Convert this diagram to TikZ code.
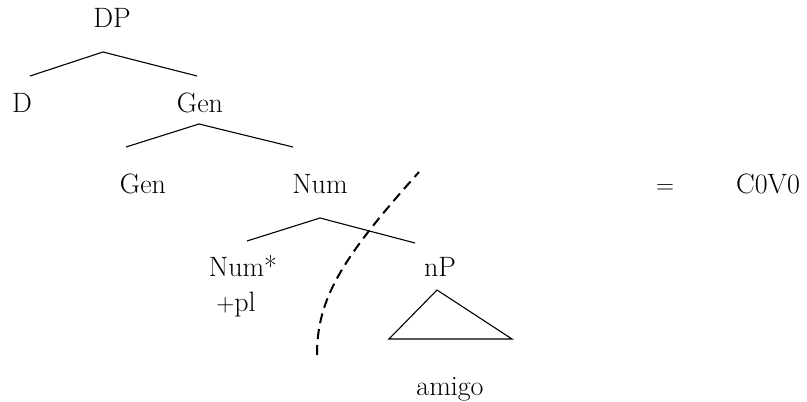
\documentclass[tikz,border=0pt]{standalone}
\begin{document}
\begin{tikzpicture}[x=1pt,y=-1pt,
  lbl/.style={inner sep=0pt, anchor=base, font=\fontsize{28}{33}\selectfont},
  br/.style={line width=1.1pt},
  cut/.style={line width=2pt, dash pattern=on 10pt off 6pt}]
\useasboundingbox (0,0) rectangle (807,402);
% labels
\node[lbl] (dp) at (112,27) {DP};
\node[lbl] (d) at (22,112) {D};
\node[lbl] (gen1) at (200,112) {Gen};
\node[lbl] (gen2) at (143,193) {Gen};
\node[lbl] (num) at (320,193) {Num};
\node[lbl] (numst) at (243,276) {Num*};
\node[lbl] (pl) at (236,311) {$+$pl};
\node[lbl] (np) at (440,276) {nP};
\node[lbl] (amigo) at (450,395) {amigo};
\node[lbl] (eq) at (665,193) {$=$};
\node[lbl] (c0v0) at (768,193) {C0V0};
% branch points
\coordinate (dpA) at (103,52);
\coordinate (dpL) at (30,76);
\coordinate (dpR) at (197,76);
\coordinate (genA) at (199,124);
\coordinate (genL) at (126,147);
\coordinate (genR) at (293,147);
\coordinate (numA) at (320,218);
\coordinate (numL) at (247,241);
\coordinate (numR) at (415,243);
\coordinate (triA) at (437,290);
\coordinate (triL) at (389,339);
\coordinate (triR) at (512,339);
\coordinate (cutT) at (419,172);
\coordinate (cutB) at (317,355);
\draw[br] (dpL) -- (dpA) -- (dpR);
\draw[br] (genL) -- (genA) -- (genR);
\draw[br] (numL) -- (numA) -- (numR);
\draw[br] (triA) -- (triL) -- (triR) -- cycle;
\draw[cut] (cutB) .. controls (317,300) and (340,260) .. (cutT);
\end{tikzpicture}
\end{document}
